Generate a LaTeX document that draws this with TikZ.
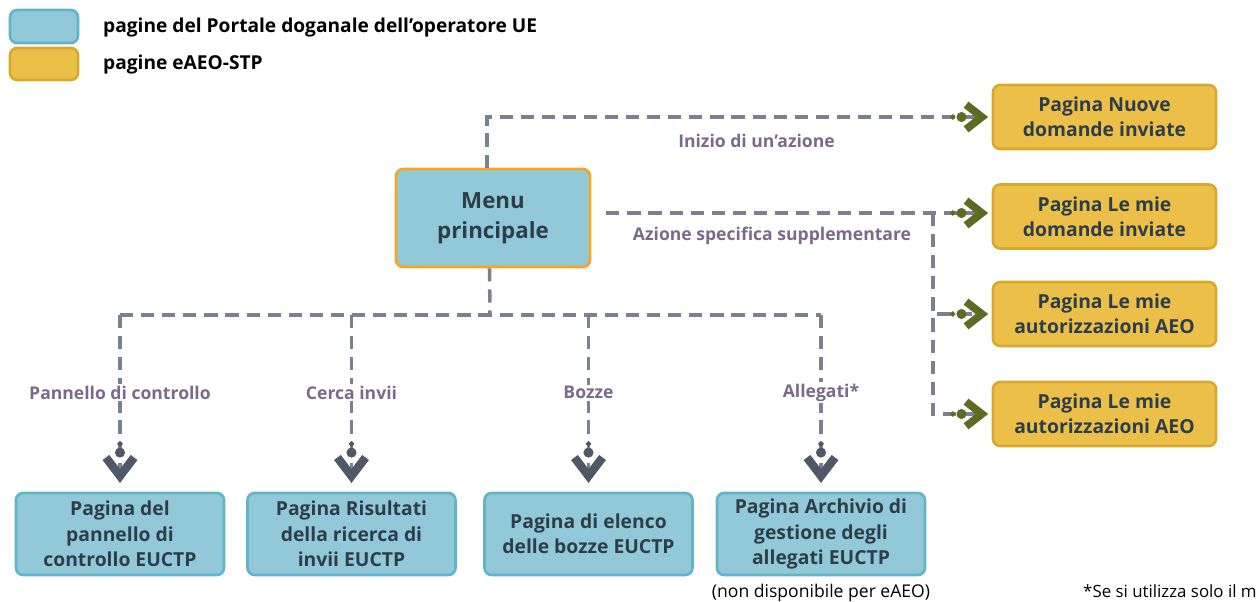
\documentclass[tikz,border=0pt]{standalone}
\usepackage{fontspec}
\setmainfont{Open Sans}
\usepackage{tikz}
\usetikzlibrary{arrows.meta}
\usetikzlibrary{positioning}
\usetikzlibrary{calc}
\definecolor{boxblue}{HTML}{92C9D8}
\definecolor{edgeblue}{HTML}{62B4C9}
\definecolor{boxyellow}{HTML}{ECC048}
\definecolor{edgeyellow}{HTML}{D9A92E}
\definecolor{menuorange}{HTML}{F5A623}
\definecolor{ink}{HTML}{2D3E4A}
\definecolor{dashgray}{HTML}{7A8291}
\definecolor{tipgreen}{HTML}{5E6B23}
\definecolor{tipgray}{HTML}{4F5866}
\definecolor{lblpurple}{HTML}{7B6A8A}
\tikzset{page/.style = {rounded corners = 4pt, line width = 1.5pt, align = center,
                        text = ink, font = \bfseries\fontsize{11}{14.5}\selectfont,
                        inner sep = 2pt}}
\tikzset{eu/.style = {page, fill = boxblue, draw = edgeblue,
                      minimum width = 4.16cm, minimum height = 1.64cm}}
\tikzset{aeo/.style = {page, fill = boxyellow, draw = edgeyellow,
                       minimum width = 4.46cm, minimum height = 1.28cm}}
\tikzset{dline/.style = {draw = dashgray, line width = 2pt, dash pattern = on 7.5pt off 4.5pt}}
\tikzset{rtip/.style = {-{Circle[length=2.8pt,sep=0.8pt,color=tipgreen]Circle[length=5.6pt,sep=-2.4pt,color=tipgreen]Straight Barb[length=9pt,width=14pt,line width=4.4pt,color=tipgreen]}}}
\tikzset{dtip/.style = {-{Circle[length=2.8pt,sep=0.8pt,color=tipgray]Circle[length=5.6pt,sep=-2.4pt,color=tipgray]Straight Barb[length=10.5pt,width=16pt,line width=4.8pt,color=tipgray]}}}
\tikzset{lbl/.style = {text = lblpurple, font = \bfseries\fontsize{10}{12}\selectfont, inner sep = 1pt}}
\begin{document}
\begin{tikzpicture}[x = 0.02cm, y = -0.02cm]
    \useasboundingbox (0, 0) rectangle (1259, 602);

    % legend
    \node [eu, minimum width = 1.36cm, minimum height = 0.66cm] (keyeu) at (44, 26.5) {};
    \node [aeo, minimum width = 1.36cm, minimum height = 0.64cm] (keyaeo) at (44, 64) {};
    \node [anchor = west, text = black, font = \bfseries\fontsize{10.9}{13}\selectfont] (keyeutxt) at (97, 28) {pagine del Portale doganale dell'operatore UE};
    \node [anchor = west, text = black, font = \bfseries\fontsize{10.9}{13}\selectfont] (keyaeotxt) at (97, 65) {pagine eAEO-STP};

    \node [eu, draw = menuorange, minimum width = 3.88cm, minimum height = 1.96cm,
           font = \bfseries\fontsize{12.7}{17}\selectfont, text depth = 3pt] (menu) at (493, 218) {Menu\\principale};

    % pagine eAEO-STP
    \node [aeo] (nuove) at (1104.5, 117) {Pagina Nuove\\domande inviate};
    \node [aeo] (inviate) at (1104.5, 216.5) {Pagina Le mie\\domande inviate};
    \node [aeo] (autaeo) at (1104.5, 314) {Pagina Le mie\\autorizzazioni AEO};
    \node [aeo] (autaeob) at (1104.5, 414) {Pagina Le mie\\autorizzazioni AEO};

    % pagine EUCTP
    \node [eu] (pannello) at (120, 534) {Pagina del\\pannello di\\controllo EUCTP};
    \node [eu] (risultati) at (351.5, 534) {Pagina Risultati\\della ricerca di\\invii EUCTP};
    \node [eu] (bozze) at (588.5, 534) {Pagina di elenco\\delle bozze EUCTP};
    \node [eu] (archivio) at (821, 534) {Pagina Archivio di\\gestione degli\\allegati EUCTP};
    \node [below = 4pt of archivio, text = black, font = \fontsize{10}{12}\selectfont, inner sep = 0] (nondisp) {(non disponibile per eAEO)};
    \node [anchor = base east, text = black, font = \fontsize{9.6}{12}\selectfont, inner sep = 0] (nota) at (1257, 597) {*Se si utilizza solo il m};

    % connettori a destra
    \draw [dline, rtip, shorten > = 2pt] ($(menu.north) + (-6, 0)$) |- (nuove.west)
        node [pos = 0.767, below = 8pt, lbl] {Inizio di un'azione};
    \coordinate (start) at ($(menu.east) + (15, -5)$);
    \coordinate (branch) at (933, 213);
    \draw [dline, rtip, shorten > = 2pt] (start) -- (start -| inviate.west)
        node [pos = 0.43, below = 6pt, lbl] {Azione specifica supplementare};
    \draw [dline, rtip, shorten > = 2pt] (branch) |- (autaeo.west);
    \draw [dline, rtip, shorten > = 2pt] (branch) |- (autaeob.west);

    % connettori in basso
    \coordinate (bus) at (490, 315);
    \draw [dline] ([xshift = -2pt]menu.south) -- (bus);
    \draw [dline] (bus -| pannello.north) -- (bus -| archivio.north);
    \foreach \page/\txt in {pannello/Pannello di controllo, risultati/Cerca invii, bozze/Bozze, archivio/Allegati*}
      \draw [dline, dtip, shorten > = 5pt] (bus -| \page.north) -- (\page.north)
          node [pos = 0.44, fill = white, lbl] {\txt};
\end{tikzpicture}
\end{document}
